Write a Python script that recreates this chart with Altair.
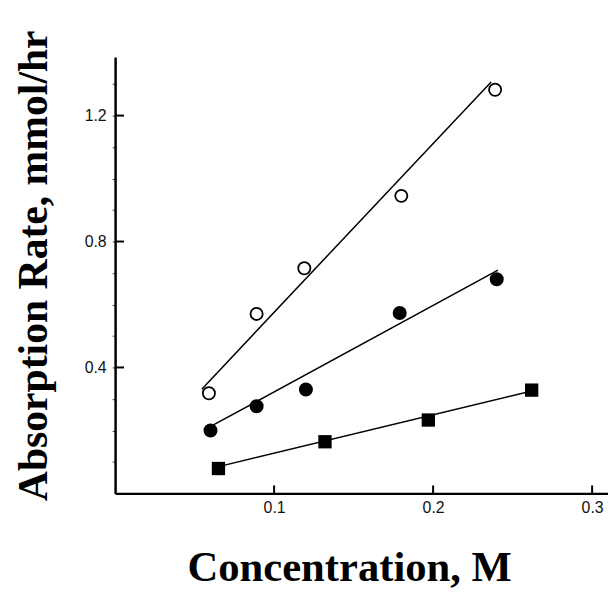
import altair as alt
import pandas as pd

# ---- data ----
open_x = [0.059, 0.089, 0.119, 0.180, 0.239]
open_y = [0.318, 0.570, 0.715, 0.945, 1.282]
filled_x = [0.060, 0.089, 0.120, 0.179, 0.240]
filled_y = [0.200, 0.277, 0.330, 0.573, 0.680]
square_x = [0.065, 0.132, 0.197, 0.262]
square_y = [0.079, 0.164, 0.233, 0.328]

fit_open_x = [0.0545, 0.2365]
fit_open_y = [0.331, 1.307]
fit_filled_x = [0.0595, 0.2408]
fit_filled_y = [0.211, 0.709]
fit_square_x = [0.065, 0.262]
fit_square_y = [0.085, 0.325]

x_ticks = [0.1, 0.2, 0.3]
y_major = [0.4, 0.8, 1.2]
y_minor = [0.1, 0.2, 0.3, 0.4, 0.5, 0.6, 0.7, 0.8, 0.9, 1.0, 1.1, 1.2, 1.3]

x_title = "Concentration, M"
y_title = "Absorption Rate, mmol/hr"

W, H = 497, 440

df_open = pd.DataFrame({"x": open_x, "y": open_y})
df_filled = pd.DataFrame({"x": filled_x, "y": filled_y})
df_square = pd.DataFrame({"x": square_x, "y": square_y})
df_fit = pd.concat([
    pd.DataFrame({"x": fit_open_x, "y": fit_open_y, "s": "open"}),
    pd.DataFrame({"x": fit_filled_x, "y": fit_filled_y, "s": "filled"}),
    pd.DataFrame({"x": fit_square_x, "y": fit_square_y, "s": "square"}),
])
df_xt = pd.DataFrame({"x": x_ticks})
df_yt = pd.DataFrame({"y": y_major})

xscale = alt.Scale(domain=[0, 0.31], nice=False, zero=False)
yscale = alt.Scale(domain=[0, 1.386], nice=False, zero=False)

x_axis = alt.Axis(
    values=x_ticks, format=".1f", ticks=False, grid=False,
    domainColor="black", domainWidth=2.5,
    labelFont="Liberation Sans", labelFontSize=16, labelColor="#111",
    labelPadding=6,
    title=x_title, titleFont="Liberation Serif", titleFontWeight="bold",
    titleFontSize=43, titleColor="black",
    titleX=236, titleY=88, titleAlign="center", titleBaseline="alphabetic",
)
y_axis = alt.Axis(
    values=y_minor, grid=False, tickSize=3, tickWidth=1, tickColor="#444",
    labelExpr="(datum.value == 0.4 || datum.value == 0.8 || datum.value == 1.2) ? format(datum.value, '.1f') : ''",
    domainColor="black", domainWidth=2.5,
    labelFont="Liberation Sans", labelFontSize=16, labelColor="#111",
    labelPadding=6,
    title=y_title, titleFont="Liberation Serif", titleFontWeight="bold",
    titleFontSize=42, titleColor="black", titleAngle=270,
    titleX=-69, titleY=210, titleAlign="center", titleBaseline="alphabetic",
)

X = alt.X("x:Q", scale=xscale, axis=x_axis)
Y = alt.Y("y:Q", scale=yscale, axis=y_axis)

fits = alt.Chart(df_fit).mark_line(color="black", strokeWidth=1.5).encode(
    x=X, y=Y, detail="s:N",
)
p_open = alt.Chart(df_open).mark_point(
    shape="circle", filled=False, color="black", strokeWidth=1.8, size=150, opacity=1
).encode(x=X, y=Y)
p_filled = alt.Chart(df_filled).mark_point(
    shape="circle", filled=True, color="black", size=200, opacity=1
).encode(x=X, y=Y)
p_square = alt.Chart(df_square).mark_point(
    shape="square", filled=True, color="black", size=180, opacity=1
).encode(x=X, y=Y)

xt = alt.Chart(df_xt).mark_rule(color="black", strokeWidth=2).encode(
    x=X, y=alt.value(H - 8), y2=alt.value(H),
)
yt = alt.Chart(df_yt).mark_rule(color="black", strokeWidth=2).encode(
    y=Y, x=alt.value(0), x2=alt.value(9),
)

chart = alt.layer(fits, p_open, p_filled, p_square, xt, yt).properties(
    width=W, height=H,
    autosize=alt.AutoSizeParams(type="none"),
    padding={"left": 108, "top": 47, "right": 0, "bottom": 97},
    background="white",
).configure_view(stroke=None)

chart.save("out.html", embed_options={"renderer": "svg", "actions": False})
